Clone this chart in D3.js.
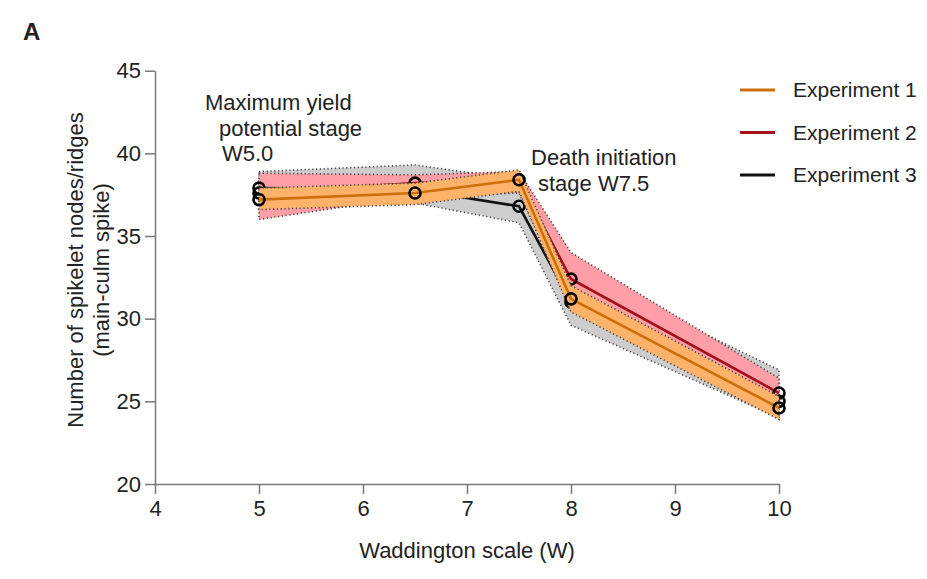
<!DOCTYPE html>
<html>
<head>
<meta charset="utf-8">
<script src="https://cdn.jsdelivr.net/npm/d3@7"></script>
<style>
  body { margin: 0; background: #fff; }
  text { font-family: "Liberation Sans", Arial, sans-serif; fill: #222; }
</style>
</head>
<body>
<svg id="chart" width="927" height="579"></svg>
<script>
// Waddington stages (x) and values per experiment
const stages = [5, 6.5, 7.5, 8, 10];
const exp1 = [37.2, 37.6, 38.4, 31.2, 24.6];
const exp1Lo = [36.6, 36.9, 37.7, 30.4, 23.9];
const exp1Hi = [37.9, 38.2, 39.0, 32.0, 25.3];
const exp2 = [37.6, 38.2, 38.4, 32.4, 25.5];
const exp2Lo = [36.0, 37.4, 37.6, 31.0, 24.8];
const exp2Hi = [38.8, 38.7, 38.9, 34.0, 26.4];
const exp3 = [37.9, 37.8, 36.8, 31.0, 25.0];
const exp3Lo = [36.8, 37.0, 35.8, 29.6, 24.0];
const exp3Hi = [38.9, 39.3, 38.4, 33.0, 26.9];

const xTicks = [4, 5, 6, 7, 8, 9, 10];
const yTicks = [20, 25, 30, 35, 40, 45];
const legendNames = ["Experiment 1", "Experiment 2", "Experiment 3"];

var svg = d3.select('#chart');

var x = d3.scaleLinear().domain([4, 10]).range([155, 779]);
var y = d3.scaleLinear().domain([20, 45]).range([484, 70.7]);

// axes
var xAxis = svg.append('g')
  .attr('transform', 'translate(0,484)')
  .call(d3.axisBottom(x).tickValues(xTicks).tickFormat(d3.format('d'))
    .tickSize(10).tickSizeOuter(0).tickPadding(6));
var yAxis = svg.append('g')
  .attr('transform', 'translate(155,0)')
  .call(d3.axisLeft(y).tickValues(yTicks).tickFormat(d3.format('d'))
    .tickSize(10).tickSizeOuter(0).tickPadding(4));

[xAxis, yAxis].forEach(a => {
  a.select('.domain').attr('stroke', '#777').attr('stroke-width', 1.5);
  a.selectAll('.tick line').attr('stroke', '#777').attr('stroke-width', 1.5);
  a.selectAll('.tick text').attr('font-size', '22px').attr('fill', '#222')
    .attr('font-family', '"Liberation Sans", Arial, sans-serif');
});

function rows(mid, lo, hi) {
  return stages.map((s, i) => ({ w: s, v: mid[i], lo: lo[i], hi: hi[i] }));
}

var series = [
  { name: 'exp3', data: rows(exp3, exp3Lo, exp3Hi), line: '#111', band: '#cdcdcd' },
  { name: 'exp2', data: rows(exp2, exp2Lo, exp2Hi), line: '#a3101c', band: '#ff9ea6' },
  { name: 'exp1', data: rows(exp1, exp1Lo, exp1Hi), line: '#cc6f0a', band: '#ffb26a' }
];

var area = d3.area().x(d => x(d.w)).y0(d => y(d.lo)).y1(d => y(d.hi));
var line = d3.line().x(d => x(d.w)).y(d => y(d.v));

var bands = svg.append('g').attr('id', 'bands');
var marks = svg.append('g').attr('id', 'marks');

// gray and red bands first, then their lines; orange band sits over them, under its own line
function drawBand(g, s) {
  g.append('path')
    .attr('d', area(s.data))
    .attr('fill', s.band)
    .attr('stroke', '#444')
    .attr('stroke-width', 1.6)
    .attr('stroke-dasharray', '1.2,2.6');
}
function drawLine(g, s) {
  g.append('path')
    .attr('d', line(s.data))
    .attr('fill', 'none')
    .attr('stroke', s.line)
    .attr('stroke-width', 2.6);
  g.selectAll(null)
    .data(s.data)
    .enter()
    .append('circle')
    .attr('cx', d => x(d.w))
    .attr('cy', d => y(d.v))
    .attr('r', 5.5)
    .attr('fill', 'none')
    .attr('stroke', '#000')
    .attr('stroke-width', 2.6);
}

drawBand(bands, series[0]);
drawBand(bands, series[1]);
drawLine(marks, series[0]);
drawLine(marks, series[1]);
var upper = svg.append('g').attr('id', 'exp1');
drawBand(upper, series[2]);
drawLine(upper, series[2]);

// annotations
var notes = svg.append('g').attr('font-size', '22px');
notes.append('text').attr('x', 205).attr('y', 110).text('Maximum yield');
notes.append('text').attr('x', 219).attr('y', 136).text('potential stage');
notes.append('text').attr('x', 222).attr('y', 161).text('W5.0');
notes.append('text').attr('x', 531).attr('y', 165).text('Death initiation');
notes.append('text').attr('x', 538).attr('y', 191).text('stage W7.5');

// axis titles
svg.append('text')
  .attr('x', 467).attr('y', 558)
  .attr('text-anchor', 'middle')
  .attr('font-size', '22px')
  .text('Waddington scale (W)');

svg.append('text')
  .attr('transform', 'translate(83,270) rotate(-90)')
  .attr('text-anchor', 'middle')
  .attr('font-size', '22px')
  .text('Number of spikelet nodes/ridges');
svg.append('text')
  .attr('transform', 'translate(109,270) rotate(-90)')
  .attr('text-anchor', 'middle')
  .attr('font-size', '22px')
  .text('(main-culm spike)');

svg.append('text')
  .attr('x', 23).attr('y', 40)
  .attr('font-size', '24px')
  .attr('font-weight', 'bold')
  .text('A');

// legend
var legendColors = [series[2].line, series[1].line, series[0].line];
var legend = svg.append('g').selectAll('g')
  .data(legendNames)
  .enter()
  .append('g')
  .attr('transform', (d, i) => 'translate(740,' + (90 + i * 42.5) + ')');
legend.append('line')
  .attr('x1', 0).attr('x2', 35)
  .attr('stroke', (d, i) => legendColors[i])
  .attr('stroke-width', 2.8);
legend.append('text')
  .attr('x', 53).attr('y', 7)
  .attr('font-size', '21px')
  .text(d => d);
</script>
</body>
</html>
